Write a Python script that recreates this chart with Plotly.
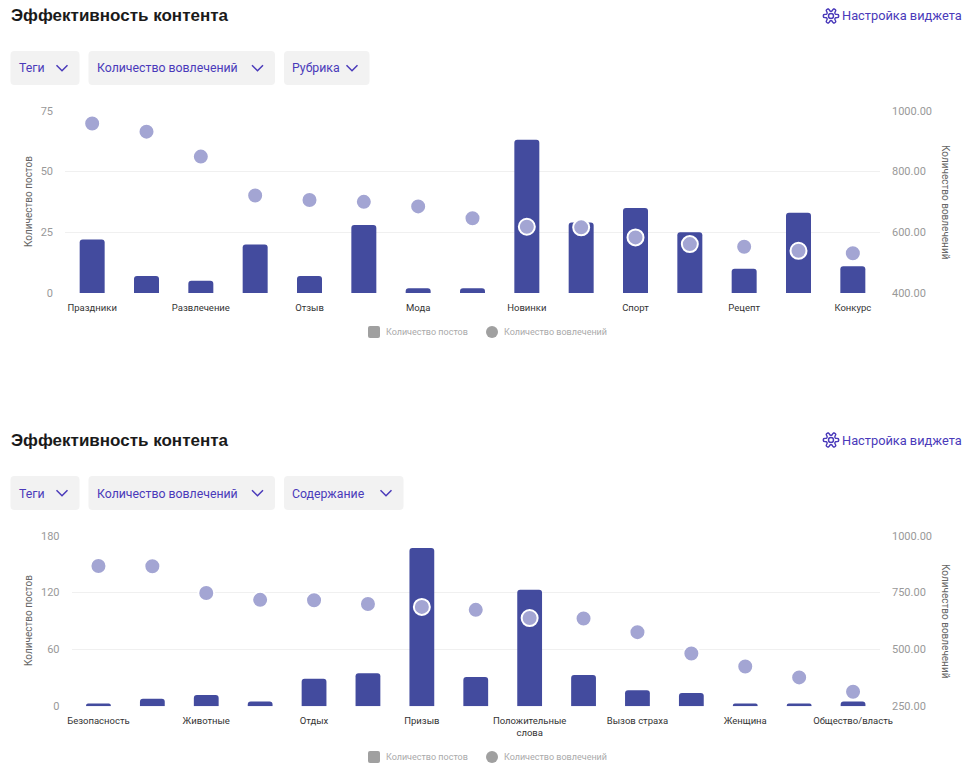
import math
import plotly.graph_objects as go

top_labels = ["Праздники", "", "Развлечение", "", "Отзыв", "", "Мода", "",
              "Новинки", "", "Спорт", "", "Рецепт", "", "Конкурс"]
top_posts = [22, 7, 5, 20, 7, 28, 2, 2, 63, 29, 35, 25, 10, 33, 11]
top_engagement = [958, 931, 849, 721, 706, 700, 685, 646,
                  618, 616, 583, 561, 552, 539, 531]
top_filters = ["Теги", "Количество вовлечений", "Рубрика"]

bottom_labels = ["Безопасность", "", "Животные", "", "Отдых", "", "Призыв", "",
                 "Положительные<br>слова", "", "Вызов страха", "", "Женщина", "",
                 "Общество/власть"]
bottom_posts = [3, 8, 12, 5, 29, 35, 167, 31, 123, 33, 17, 14, 3, 3, 5]
bottom_engagement = [867, 866, 748, 718, 716, 700, 687, 674,
                     638, 636, 576, 482, 425, 377, 314]
bottom_filters = ["Теги", "Количество вовлечений", "Содержание"]

W, H = 974, 772
bar_color = "#434b9e"
dot_color = "#a3a5d3"
purple = "#4a3aba"
font = "Roboto"


def fx(px):
    return px / W


def fy(py):
    return 1 - py / H


def rounded_rect(x0, y0, x1, y1, r):
    # path in paper coords, pixel input (y grows downward)
    pts = [
        "M {} {}".format(fx(x0 + r), fy(y0)),
        "L {} {}".format(fx(x1 - r), fy(y0)),
        "Q {} {} {} {}".format(fx(x1), fy(y0), fx(x1), fy(y0 + r)),
        "L {} {}".format(fx(x1), fy(y1 - r)),
        "Q {} {} {} {}".format(fx(x1), fy(y1), fx(x1 - r), fy(y1)),
        "L {} {}".format(fx(x0 + r), fy(y1)),
        "Q {} {} {} {}".format(fx(x0), fy(y1), fx(x0), fy(y1 - r)),
        "L {} {}".format(fx(x0), fy(y0 + r)),
        "Q {} {} {} {}".format(fx(x0), fy(y0), fx(x0 + r), fy(y0)),
        "Z",
    ]
    return " ".join(pts)


shapes = []
annotations = []


def add_header(top):
    annotations.append(dict(
        x=fx(9), y=fy(top + 16), xref="paper", yref="paper",
        xanchor="left", yanchor="middle", showarrow=False,
        text="<b>Эффективность контента</b>",
        font=dict(family="Liberation Sans", size=17, color="#1a1a1a")))
    annotations.append(dict(
        x=fx(964), y=fy(top + 16), xref="paper", yref="paper",
        xanchor="right", yanchor="middle", showarrow=False,
        text="Настройка виджета",
        font=dict(family=font, size=12.8, color=purple)))
    # gear icon, outlined
    cx, cy = 831, top + 16
    pts = []
    for i in range(73):
        a = i * 2 * math.pi / 72
        rad = 6.2 + 1.5 * math.tanh(2.2 * math.cos(6 * a)) / math.tanh(2.2)
        pts.append((cx + rad * math.cos(a), cy + rad * math.sin(a)))
    path = "M " + " L ".join("{} {}".format(fx(p[0]), fy(p[1])) for p in pts) + " Z"
    shapes.append(dict(type="path", path=path, xref="paper", yref="paper",
                       line=dict(color=purple, width=1.4), fillcolor="rgba(0,0,0,0)"))
    shapes.append(dict(type="circle", xref="paper", yref="paper",
                       x0=fx(cx - 2.5), x1=fx(cx + 2.5), y0=fy(cy - 2.5), y1=fy(cy + 2.5),
                       line=dict(color=purple, width=1.4)))


def add_filters(top, names, boxes):
    for name, (x0, x1) in zip(names, boxes):
        shapes.append(dict(type="path", path=rounded_rect(x0, top, x1, top + 34, 4),
                           xref="paper", yref="paper", fillcolor="#f2f2f2",
                           line=dict(width=0), layer="below"))
        annotations.append(dict(
            x=fx(x0 + 6), y=fy(top + 17.5), xref="paper", yref="paper",
            xanchor="left", yanchor="middle", showarrow=False, text=name,
            font=dict(family=font, size=12.3, color=purple)))
        ccx, ccy = x1 - 17.5, top + 17
        shapes.append(dict(
            type="path", xref="paper", yref="paper",
            path="M {} {} L {} {} L {} {}".format(
                fx(ccx - 5.5), fy(ccy - 2.8), fx(ccx), fy(ccy + 2.8),
                fx(ccx + 5.5), fy(ccy - 2.8)),
            line=dict(color=purple, width=1.5)))


def add_side_titles(cy):
    annotations.append(dict(
        x=fx(28), y=fy(cy), xref="paper", yref="paper", textangle=-90,
        xanchor="center", yanchor="middle", showarrow=False,
        text="Количество постов", font=dict(family=font, size=10, color="#666")))
    annotations.append(dict(
        x=fx(946), y=fy(cy), xref="paper", yref="paper", textangle=90,
        xanchor="center", yanchor="middle", showarrow=False,
        text="Количество вовлечений", font=dict(family=font, size=10, color="#666")))


def add_legend(cy):
    shapes.append(dict(type="path", path=rounded_rect(368, cy - 6, 380, cy + 6, 2),
                       xref="paper", yref="paper", fillcolor="#a0a0a0", line=dict(width=0)))
    annotations.append(dict(
        x=fx(384), y=fy(cy), xref="paper", yref="paper", xanchor="left",
        yanchor="middle", showarrow=False, text="Количество постов",
        font=dict(family=font, size=9, color="#aaa")))
    shapes.append(dict(type="circle", xref="paper", yref="paper",
                       x0=fx(486), x1=fx(498), y0=fy(cy - 6), y1=fy(cy + 6),
                       fillcolor="#a0a0a0", line=dict(width=0)))
    annotations.append(dict(
        x=fx(502), y=fy(cy), xref="paper", yref="paper", xanchor="left",
        yanchor="middle", showarrow=False, text="Количество вовлечений",
        font=dict(family=font, size=9, color="#aaa")))


add_header(0)
add_filters(51, top_filters, [(10.5, 79.5), (88.5, 275), (284, 369.5)])
add_side_titles(202)
add_legend(332)

add_header(424)
add_filters(476, bottom_filters, [(10.5, 79.5), (88.5, 275), (284, 403.5)])
add_side_titles(621)
add_legend(757)

x_top = list(range(len(top_labels)))
x_bot = list(range(len(bottom_labels)))

fig = go.Figure()
fig.add_trace(go.Bar(x=x_top, y=top_posts, xaxis="x", yaxis="y", width=0.46,
                     marker=dict(color=bar_color, cornerradius=3, line=dict(width=0)),
                     name="Количество постов"))
fig.add_trace(go.Scatter(x=x_top, y=top_engagement, xaxis="x", yaxis="y2", mode="markers",
                         marker=dict(color=dot_color, size=16, line=dict(color="white", width=2)),
                         name="Количество вовлечений"))
fig.add_trace(go.Bar(x=x_bot, y=bottom_posts, xaxis="x2", yaxis="y3", width=0.46,
                     marker=dict(color=bar_color, cornerradius=3, line=dict(width=0)),
                     name="Количество постов"))
fig.add_trace(go.Scatter(x=x_bot, y=bottom_engagement, xaxis="x2", yaxis="y4", mode="markers",
                         marker=dict(color=dot_color, size=16, line=dict(color="white", width=2)),
                         name="Количество вовлечений"))

tick_font = dict(family=font, size=11, color="#999")
cat_font = dict(family=font, size=9.5, color="#333")
grid = "#f0f0f0"

fig.update_layout(
    width=W, height=H,
    margin=dict(l=0, r=0, t=0, b=0, autoexpand=False),
    paper_bgcolor="white", plot_bgcolor="white",
    showlegend=False,
    shapes=shapes, annotations=annotations,
    xaxis=dict(domain=[fx(65), fx(880)], anchor="y", range=[-0.5, 14.5],
               tickvals=x_top, ticktext=top_labels, tickfont=cat_font,
               showgrid=False, zeroline=False, showline=False, ticks="",
               ticklabelstandoff=7),
    yaxis=dict(domain=[fy(293), fy(110.7)], anchor="x", range=[0, 75], dtick=25,
               tickfont=tick_font, gridcolor=grid, zeroline=False, showline=False,
               ticklabelstandoff=11),
    yaxis2=dict(overlaying="y", side="right", anchor="x", range=[400, 1000], dtick=200,
                tickformat=".2f", tickfont=tick_font, showgrid=False, zeroline=False,
                ticklabelstandoff=11),
    xaxis2=dict(domain=[fx(71.5), fx(880)], anchor="y3", range=[-0.5, 14.5],
                tickvals=x_bot, ticktext=bottom_labels, tickfont=cat_font,
                showgrid=False, zeroline=False, showline=False, ticks="",
                ticklabelstandoff=7),
    yaxis3=dict(domain=[fy(706.3), fy(535.7)], anchor="x2", range=[0, 180], dtick=60,
                tickfont=tick_font, gridcolor=grid, zeroline=False, showline=False,
                ticklabelstandoff=11),
    yaxis4=dict(overlaying="y3", side="right", anchor="x2", range=[250, 1000], dtick=250,
                tickformat=".2f", tickfont=tick_font, showgrid=False, zeroline=False,
                ticklabelstandoff=11),
)

fig.write_html("out.html", config={"displayModeBar": False},
               post_script="document.body.style.margin='0';")
